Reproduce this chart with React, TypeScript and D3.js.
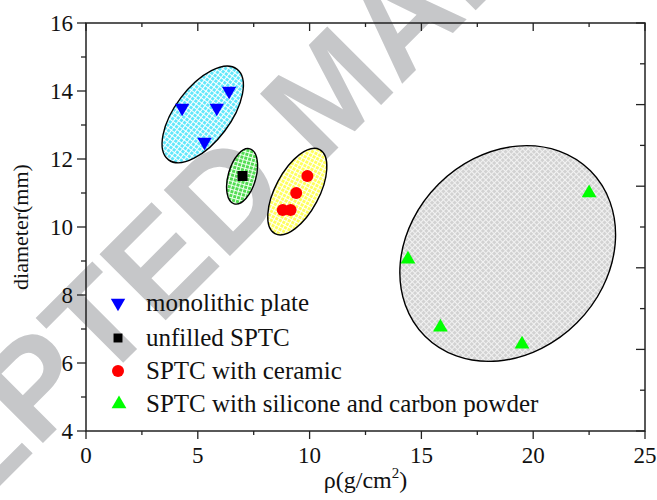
import React from "react";
import * as d3 from "d3";

// ---- data ----
const seriesNames = [
  "monolithic plate",
  "unfilled SPTC",
  "SPTC with ceramic",
  "SPTC with silicone and carbon powder",
];
const monolithicX = [4.3, 5.85, 6.4, 5.3];
const monolithicY = [13.5, 13.5, 14.0, 12.5];
const unfilledX = [7.0];
const unfilledY = [11.5];
const ceramicX = [8.8, 9.15, 9.4, 9.9];
const ceramicY = [10.5, 10.5, 11.0, 11.5];
const siliconeX = [14.4, 15.85, 19.5, 22.5];
const siliconeY = [9.05, 7.05, 6.55, 11.0];

// grouping ellipses: centre (data), semi-axes (x-data units), tilt (deg)
const ellipseCx = [5.22, 6.98, 9.45, 18.86];
const ellipseCy = [13.31, 11.49, 11.04, 9.22];
const ellipseA = [2.54, 1.28, 2.13, 5.23];
const ellipseB = [1.23, 0.62, 0.98, 4.38];
const ellipseAngle = [-53, -74, -62, -45];

const xTicks = [0, 5, 10, 15, 20, 25];
const yTicks = [4, 6, 8, 10, 12, 14, 16];

const W = 657;
const H = 500;
const L = 86, R = 645, T = 23, B = 431;

const FONT = "'Liberation Serif', 'Times New Roman', serif";

export default function App() {
  const x = d3.scaleLinear().domain([0, 25]).range([L, R]);
  const y = d3.scaleLinear().domain([4, 16]).range([B, T]);
  const kx = x(1) - x(0);

  const xMinor = d3.range(0, 25.01, 2.5);
  const yMinor = d3.range(4, 16.01, 1);
  const rightTicks = d3.range(0, 10.01, 1).map((i) => 4 + i * 1.2);

  const patterns = [
    { id: "pCyan", base: "#62e8fb", line: "#ffffff" },
    { id: "pGreen", base: "#52dc52", line: "#f0fff0" },
    { id: "pYellow", base: "#ffff5e", line: "#ffffff" },
    { id: "pGray", base: "#d2d2d2", line: "#f2f2f2" },
  ];

  const triUp = d3.symbol(d3.symbolTriangle, 95)()!;
  const triDown = d3.symbol(d3.symbolTriangle, 90)()!;
  const square = d3.symbol(d3.symbolSquare, 100)()!;
  const square2 = d3.symbol(d3.symbolSquare, 80)()!;

  const legendY = [303, 338, 371, 404];

  return (
    <svg
      width={W}
      height={H}
      style={{ position: "absolute", left: 0, top: 0, background: "#fff" }}
      fontFamily={FONT}
    >
      <defs>
        {patterns.map((p) => (
          <pattern
            key={p.id}
            id={p.id}
            width={4}
            height={4}
            patternUnits="userSpaceOnUse"
          >
            <rect width={4} height={4} fill={p.base} />
            <rect width={4} height={1} fill={p.line} />
            <rect width={1} height={4} fill={p.line} />
          </pattern>
        ))}
      </defs>
      <rect width={W} height={H} fill="#fff" />

      {/* watermark */}
      <text
        transform="translate(-236,722) rotate(-45)"
        fontFamily="'Liberation Sans', Arial, sans-serif"
        fontWeight="bold"
        fontSize={136}
        fill="#c6c7c9"
      >
        ACCEPTED MANUSCRIPT
      </text>

      {/* ellipses */}
      {ellipseCx.map((cx, i) => (
        <ellipse
          key={"e" + i}
          transform={`translate(${x(cx)},${y(ellipseCy[i])}) rotate(${ellipseAngle[i]})`}
          rx={ellipseA[i] * kx}
          ry={ellipseB[i] * kx}
          fill={`url(#${patterns[i].id})`}
          stroke="#000"
          strokeWidth={1.4}
        />
      ))}

      {/* axes frame */}
      <rect
        x={L}
        y={T}
        width={R - L}
        height={B - T}
        fill="none"
        stroke="#222"
        strokeWidth={1.5}
      />

      {/* bottom ticks (outward) & top ticks (inward) */}
      {xMinor.map((v) => {
        const major = Math.abs(v % 5) < 1e-6;
        return (
          <g key={"xt" + v}>
            <line x1={x(v)} x2={x(v)} y1={B} y2={B + (major ? 8 : 4)} stroke="#222" strokeWidth={1.3} />
            <line x1={x(v)} x2={x(v)} y1={T} y2={T + (major ? 8 : 4)} stroke="#222" strokeWidth={1.3} />
          </g>
        );
      })}
      {/* left ticks (outward) */}
      {yMinor.map((v) => {
        const major = v % 2 === 0;
        return (
          <line key={"yt" + v} x1={L - (major ? 9 : 5)} x2={L} y1={y(v)} y2={y(v)} stroke="#222" strokeWidth={1.3} />
        );
      })}
      {/* right ticks (inward) */}
      {rightTicks.map((v, i) => (
        <line key={"rt" + i} x1={R - (i % 2 === 0 ? 9 : 5)} x2={R} y1={y(v)} y2={y(v)} stroke="#222" strokeWidth={1.3} />
      ))}

      {/* tick labels */}
      {xTicks.map((v) => (
        <text key={"xl" + v} x={x(v)} y={463} textAnchor="middle" fontSize={23} fill="#111">
          {v}
        </text>
      ))}
      {yTicks.map((v) => (
        <text key={"yl" + v} x={73} y={y(v) + 8} textAnchor="end" fontSize={23} fill="#111">
          {v}
        </text>
      ))}

      {/* axis titles */}
      <text x={(L + R) / 2} y={488} textAnchor="middle" fontSize={24} fill="#111">
        ρ(g/cm<tspan dy={-10} fontSize={15}>2</tspan>
        <tspan dy={10}>)</tspan>
      </text>
      <text
        transform={`translate(28,${(T + B) / 2}) rotate(-90)`}
        textAnchor="middle"
        fontSize={22}
        fill="#111"
      >
        diameter(mm)
      </text>

      {/* data */}
      {monolithicX.map((v, i) => (
        <path key={"m" + i} d={triDown} transform={`translate(${x(v)},${y(monolithicY[i])}) rotate(180)`} fill="#0000ff" />
      ))}
      {unfilledX.map((v, i) => (
        <path key={"u" + i} d={square} transform={`translate(${x(v)},${y(unfilledY[i])})`} fill="#000" />
      ))}
      {ceramicX.map((v, i) => (
        <circle key={"c" + i} cx={x(v)} cy={y(ceramicY[i])} r={6} fill="#ff0000" />
      ))}
      {siliconeX.map((v, i) => (
        <path key={"s" + i} d={triUp} transform={`translate(${x(v)},${y(siliconeY[i])})`} fill="#00ff00" />
      ))}

      {/* legend */}
      <path d={triDown} transform={`translate(118,${legendY[0]}) rotate(180)`} fill="#0000ff" />
      <path d={square2} transform={`translate(118,${legendY[1]})`} fill="#000" />
      <circle cx={118} cy={legendY[2]} r={6} fill="#ff0000" />
      <path d={triUp} transform={`translate(119,${legendY[3]})`} fill="#00ff00" />
      {seriesNames.map((n, i) => (
        <text key={"lg" + i} x={146} y={legendY[i] + 8} fontSize={25} fill="#111">
          {n}
        </text>
      ))}
    </svg>
  );
}
